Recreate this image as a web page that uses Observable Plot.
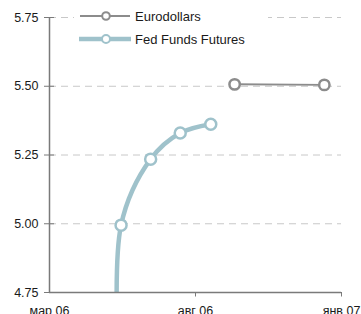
<!DOCTYPE html>
<html>
<head>
<meta charset="utf-8">
<script src="https://cdn.jsdelivr.net/npm/d3@7"></script>
<script src="https://cdn.jsdelivr.net/npm/@observablehq/plot@0.6"></script>
<style>
  html, body { margin: 0; padding: 0; background: #fff; }
  #wrap { position: relative; width: 361px; height: 314px; overflow: hidden; font-family: "Liberation Sans", Arial, sans-serif; }
  #legend { position: absolute; left: 74px; top: 4px; width: 194px; height: 48px; background: #fff; }
  .row { position: absolute; left: 0; height: 20px; display: flex; align-items: center; font-size: 13px; color: #1a1a1a; }
  .row svg { display: block; margin-right: 3px; }
</style>
</head>
<body>
<div id="wrap">
  <div id="chart"></div>
  <div id="legend">
    <div class="row" style="top:2px">
      <svg width="58" height="20"><line x1="6" x2="56" y1="10" y2="10" stroke="#8c8c8c" stroke-width="2"/><circle cx="32" cy="10" r="3.8" fill="#fff" stroke="#8c8c8c" stroke-width="2"/></svg>Eurodollars
    </div>
    <div class="row" style="top:25px">
      <svg width="58" height="20"><line x1="5" x2="57" y1="10" y2="10" stroke="#9fc2cb" stroke-width="4.5"/><circle cx="32" cy="10" r="4" fill="#fff" stroke="#9fc2cb" stroke-width="2"/></svg>Fed Funds Futures
    </div>
  </div>
</div>
<script>
const ffDates = ["2006-05-15", "2006-05-15", "2006-06-15", "2006-07-16", "2006-08-17"];
const ffValues = [4.30, 4.995, 5.235, 5.33, 5.362];
const ffMarkers = [false, true, true, true, true];
const edDates = ["2006-09-11", "2006-12-14"];
const edValues = [5.507, 5.505];
const yTicks = [4.75, 5.00, 5.25, 5.50, 5.75];
const yGrid = [5.00, 5.25, 5.50, 5.75];
const xTickDates = ["2006-03-01", "2006-08-01", "2007-01-01"];
const xTickLabels = ["мар 06", "авг 06", "янв 07"];

const ff = ffDates.map((d, i) => ({date: new Date(d), value: ffValues[i], marker: ffMarkers[i]}));
const ed = edDates.map((d, i) => ({date: new Date(d), value: edValues[i]}));
const xTicks = xTickDates.map(d => new Date(d));
const xDomain = [xTicks[0], xTicks[xTicks.length - 1]];
const yDomain = [yTicks[0], yTicks[yTicks.length - 1]];
const labelOf = new Map(xTicks.map((d, i) => [+d, xTickLabels[i]]));

const axisColor = "#7a7a7a";
const ffColor = "#9fc2cb";
const edColor = "#8c8c8c";

const chart = Plot.plot({
  width: 361,
  height: 314,
  marginLeft: 49,
  marginRight: 20,
  marginTop: 17,
  marginBottom: 22,
  style: {fontFamily: "'Liberation Sans', Arial, sans-serif", fontSize: "12.5px", color: "#1a1a1a", background: "#fff"},
  x: {type: "utc", domain: xDomain, label: null},
  y: {domain: yDomain, label: null},
  marks: [
    Plot.ruleY(yGrid, {stroke: "#c8c8c8", strokeWidth: 1, strokeDasharray: "7,5"}),
    Plot.line(ff, {x: "date", y: "value", stroke: ffColor, strokeWidth: 4.5, curve: "catmull-rom", clip: true}),
    Plot.dot(ff.filter(d => d.marker), {x: "date", y: "value", r: 5.5, fill: "#fff", stroke: ffColor, strokeWidth: 2.5}),
    Plot.line(ed, {x: "date", y: "value", stroke: edColor, strokeWidth: 2}),
    Plot.dot(ed, {x: "date", y: "value", r: 5.2, fill: "#fff", stroke: edColor, strokeWidth: 2.5}),
    Plot.ruleX([xDomain[0]], {stroke: axisColor, strokeWidth: 1.5}),
    Plot.ruleY([yDomain[0]], {stroke: axisColor, strokeWidth: 1.5}),
    Plot.axisY(yTicks, {tickSize: 10, dx: 5, tickFormat: () => "", stroke: axisColor, label: null}),
    Plot.axisY(yTicks, {tickSize: 0, tickPadding: 11, tickFormat: ".2f", fill: "#1a1a1a", label: null}),
    Plot.axisX(xTicks.slice(1), {tickSize: 4.5, tickFormat: () => "", stroke: axisColor, label: null}),
    Plot.axisX(xTicks, {tickSize: 0, tickPadding: 14, tickFormat: d => labelOf.get(+d), fill: "#1a1a1a", label: null})
  ]
});
document.getElementById("chart").appendChild(chart);
</script>
</body>
</html>
